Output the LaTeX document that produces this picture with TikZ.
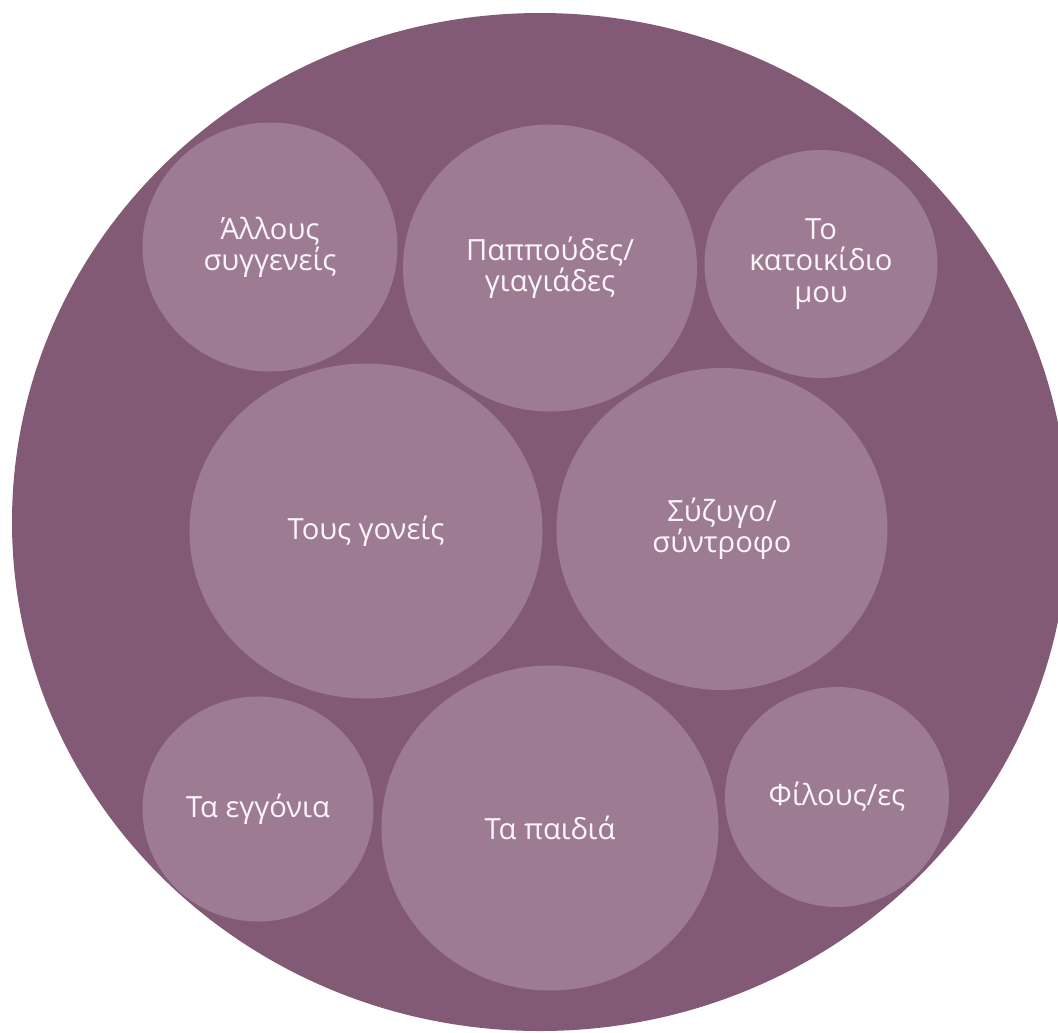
\documentclass[tikz,border=0pt]{standalone}
\usepackage{fontspec}
\setmainfont{Open Sans}
\usepackage{xcolor}
\usepackage{tikz}
\usetikzlibrary{shapes.geometric}
\definecolor{plum}{RGB}{130,90,117}
\definecolor{plumlt}{RGB}{157,124,147}
\definecolor{txtlt}{RGB}{252,246,250}

\begin{document}
\begin{tikzpicture}[
  bubble/.style={ellipse,fill=plumlt,inner sep=0pt,align=center,
                 text=txtlt,font=\fontsize{8.3}{8.9}\selectfont}
]
\clip (0,0) rectangle (10.58,-10.32);
\fill[white] (0,0) rectangle (10.58,-10.32);
\node[ellipse,fill=plum,minimum width=10.56cm,minimum height=10.18cm] (all) at (5.40,-5.22) {};
\node[bubble,minimum width=2.55cm,minimum height=2.49cm] (rel) at (2.70,-2.47) {Άλλους\\συγγενείς};
\node[bubble,minimum width=2.94cm,minimum height=2.87cm] (gp) at (5.50,-2.68) {Παππούδες/\\γιαγιάδες};
\node[bubble,minimum width=2.33cm,minimum height=2.28cm] (pet) at (8.21,-2.64) {Το\\κατοικίδιο\\μου};
\node[bubble,minimum width=3.53cm,minimum height=3.35cm] (par) at (3.66,-5.31) {Τους γονείς};
\node[bubble,minimum width=3.31cm,minimum height=3.22cm] (sp) at (7.22,-5.29) {Σύζυγο/\\σύντροφο};
\node[bubble,minimum width=2.31cm,minimum height=2.25cm] (gc) at (2.58,-8.09) {Τα εγγόνια};
\node[bubble,minimum width=3.37cm,minimum height=3.25cm] (ch) at (5.50,-8.28) {Τα παιδιά};
\node[bubble,minimum width=2.24cm,minimum height=2.20cm] (fr) at (8.37,-7.97) {Φίλους/ες};
\end{tikzpicture}
\end{document}
